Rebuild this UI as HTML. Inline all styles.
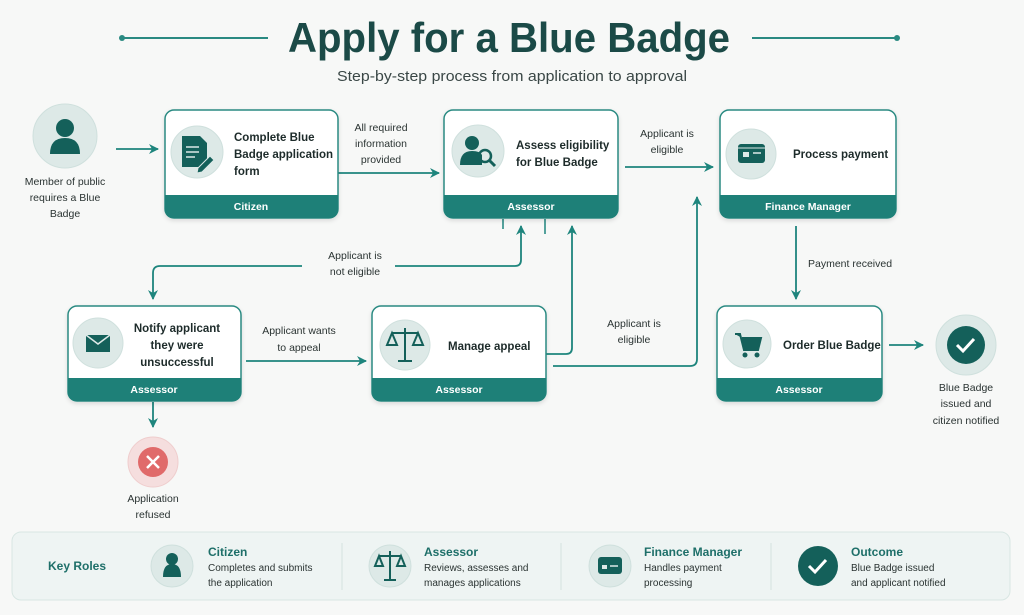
<!DOCTYPE html>
<html><head><meta charset="utf-8"><style>
html,body{margin:0;padding:0;background:#f7f8f7;}
svg{display:block;font-family:"Liberation Sans",sans-serif;}
.t{fill:#1d2b2a;font-size:11.5px;font-weight:bold;}
.l{fill:#2a3332;font-size:10.5px;}
.f{fill:#fff;font-size:10.5px;font-weight:bold;}
.c{stroke:#1e857d;stroke-width:1.8;fill:none;}
</style></head><body>
<svg width="1024" height="615" viewBox="0 0 1024 615">
<defs>
<marker id="a" markerWidth="12" markerHeight="12" refX="9" refY="6" orient="auto" markerUnits="userSpaceOnUse"><path d="M0,1 L10,6 L0,11 L3,6z" fill="#1e857d"/></marker>
<filter id="s" x="-10%" y="-10%" width="120%" height="130%"><feDropShadow dx="0" dy="2" stdDeviation="2" flood-color="#000" flood-opacity="0.12"/></filter>
</defs>
<rect width="1024" height="615" fill="#f7f8f7"/>
<text x="288" y="52" textLength="442" lengthAdjust="spacingAndGlyphs" font-size="42" font-weight="bold" fill="#1b4a47">Apply for a Blue Badge</text>
<line x1="122" y1="38" x2="268" y2="38" stroke="#2a8a82" stroke-width="2"/><circle cx="122" cy="38" r="3" fill="#2a8a82"/>
<line x1="752" y1="38" x2="897" y2="38" stroke="#2a8a82" stroke-width="2"/><circle cx="897" cy="38" r="3" fill="#2a8a82"/>
<text x="337" y="81" textLength="350" lengthAdjust="spacingAndGlyphs" font-size="15" fill="#3a4746">Step-by-step process from application to approval</text>

<circle cx="65" cy="136" r="32" fill="#dde9e7" stroke="#cfe0dd"/>
<circle cx="65" cy="128" r="9" fill="#14605a"/><path d="M50,154 q0,-16 15,-16 q15,0 15,16 z" fill="#14605a"/>
<text class="l" text-anchor="middle"><tspan x="65" y="185">Member of public</tspan><tspan x="65" y="201">requires a Blue</tspan><tspan x="65" y="217">Badge</tspan></text>
<line class="c" x1="116" y1="149" x2="158" y2="149" marker-end="url(#a)"/>

<line class="c" x1="338" y1="173" x2="439" y2="173" marker-end="url(#a)"/>
<text class="l" text-anchor="middle"><tspan x="381" y="131">All required</tspan><tspan x="381" y="147">information</tspan><tspan x="381" y="163">provided</tspan></text>
<line class="c" x1="625" y1="167" x2="713" y2="167" marker-end="url(#a)"/>
<text class="l" text-anchor="middle"><tspan x="667" y="137">Applicant is</tspan><tspan x="667" y="153">eligible</tspan></text>
<line class="c" x1="796" y1="226" x2="796" y2="299" marker-end="url(#a)"/>
<text class="l" x="808" y="267">Payment received</text>
<line class="c" x1="889" y1="345" x2="923" y2="345" marker-end="url(#a)"/>
<path class="c" d="M395,266 H515 q6,0 6,-6 V226" marker-end="url(#a)"/>
<path class="c" d="M302,266 H160 q-7,0 -7,7 V299" marker-end="url(#a)"/>
<text class="l" text-anchor="middle"><tspan x="355" y="259">Applicant is</tspan><tspan x="355" y="275">not eligible</tspan></text>
<line x1="503" y1="219" x2="503" y2="229" stroke="#1e857d" stroke-width="1.5"/>
<line x1="545" y1="219" x2="545" y2="234" stroke="#1e857d" stroke-width="1.5"/>
<path class="c" d="M546,354 H566 q6,0 6,-6 V226" marker-end="url(#a)"/>
<path class="c" d="M553,366 H690 q7,0 7,-7 V197" marker-end="url(#a)"/>
<text class="l" text-anchor="middle"><tspan x="634" y="327">Applicant is</tspan><tspan x="634" y="343">eligible</tspan></text>
<line class="c" x1="246" y1="361" x2="366" y2="361" marker-end="url(#a)"/>
<text class="l" text-anchor="middle"><tspan x="299" y="334">Applicant wants</tspan><tspan x="299" y="351">to appeal</tspan></text>
<line class="c" x1="153" y1="402" x2="153" y2="427" marker-end="url(#a)"/>

<g filter="url(#s)">
<rect x="165" y="110" width="173" height="108" rx="9" fill="#fff" stroke="#2a8a82" stroke-width="1.5"/>
<rect x="444" y="110" width="174" height="108" rx="9" fill="#fff" stroke="#2a8a82" stroke-width="1.5"/>
<rect x="720" y="110" width="176" height="108" rx="9" fill="#fff" stroke="#2a8a82" stroke-width="1.5"/>
<rect x="68" y="306" width="173" height="95" rx="9" fill="#fff" stroke="#2a8a82" stroke-width="1.5"/>
<rect x="372" y="306" width="174" height="95" rx="9" fill="#fff" stroke="#2a8a82" stroke-width="1.5"/>
<rect x="717" y="306" width="165" height="95" rx="9" fill="#fff" stroke="#2a8a82" stroke-width="1.5"/>
</g>
<path d="M165,195 H338 V209 q0,9 -9,9 H174 q-9,0 -9,-9z" fill="#1e8078"/>
<path d="M444,195 H618 V209 q0,9 -9,9 H453 q-9,0 -9,-9z" fill="#1e8078"/>
<path d="M720,195 H896 V209 q0,9 -9,9 H729 q-9,0 -9,-9z" fill="#1e8078"/>
<path d="M68,378 H241 V392 q0,9 -9,9 H77 q-9,0 -9,-9z" fill="#1e8078"/>
<path d="M372,378 H546 V392 q0,9 -9,9 H381 q-9,0 -9,-9z" fill="#1e8078"/>
<path d="M717,378 H882 V392 q0,9 -9,9 H726 q-9,0 -9,-9z" fill="#1e8078"/>
<text class="f" text-anchor="middle" x="251" y="210">Citizen</text>
<text class="f" text-anchor="middle" x="531" y="210">Assessor</text>
<text class="f" text-anchor="middle" x="808" y="210">Finance Manager</text>
<text class="f" text-anchor="middle" x="154" y="393">Assessor</text>
<text class="f" text-anchor="middle" x="459" y="393">Assessor</text>
<text class="f" text-anchor="middle" x="799" y="393">Assessor</text>

<g fill="#dde9e7" stroke="#cfe0dd">
<circle cx="197" cy="152" r="26"/><circle cx="478" cy="151" r="26"/><circle cx="751" cy="154" r="25"/>
<circle cx="98" cy="343" r="25"/><circle cx="405" cy="345" r="25"/><circle cx="747" cy="344" r="24"/>
</g>
<path d="M182,136 h18 l7,7 v24 h-25z" fill="#14605a"/><g stroke="#dde9e7" stroke-width="1.5"><line x1="186" y1="147" x2="199" y2="147"/><line x1="186" y1="152" x2="199" y2="152"/><line x1="186" y1="157" x2="195" y2="157"/></g>
<path d="M198,168 l12,-12 4,4 -12,12 -5,1z" fill="#14605a" stroke="#dde9e7"/>
<circle cx="472" cy="143" r="7" fill="#14605a"/><path d="M460,165 q0,-14 12,-14 q8,0 10,4 v10z" fill="#14605a"/>
<circle cx="485" cy="156" r="6" fill="none" stroke="#14605a" stroke-width="2.5"/><line x1="489" y1="160" x2="495" y2="166" stroke="#14605a" stroke-width="3"/>
<rect x="738" y="144" width="27" height="19" rx="3" fill="#14605a"/><rect x="743" y="152" width="6" height="5" fill="#dde9e7"/><line x1="753" y1="153" x2="761" y2="153" stroke="#dde9e7" stroke-width="1.5"/><line x1="738" y1="148" x2="765" y2="148" stroke="#dde9e7" stroke-width="1"/>
<rect x="86" y="335" width="24" height="17" fill="#14605a"/><path d="M86,335 l12,9 12,-9" fill="none" stroke="#dde9e7" stroke-width="1.5"/>
<g stroke="#14605a" stroke-width="2" fill="none"><line x1="405" y1="328" x2="405" y2="360"/><line x1="392" y1="333" x2="418" y2="333"/><line x1="398" y1="361" x2="412" y2="361"/><path d="M392,333 l-5,12 h10z M418,333 l-5,12 h10z"/></g>
<path d="M735,334 h5 l4,16 h14 l3,-12 h-19" fill="#14605a" stroke="#14605a" stroke-width="2"/><circle cx="745" cy="355" r="2.5" fill="#14605a"/><circle cx="757" cy="355" r="2.5" fill="#14605a"/>

<text class="t"><tspan x="234" y="141">Complete Blue</tspan><tspan x="234" y="158">Badge application</tspan><tspan x="234" y="175">form</tspan></text>
<text class="t"><tspan x="516" y="149">Assess eligibility</tspan><tspan x="516" y="166">for Blue Badge</tspan></text>
<text class="t" x="793" y="158">Process payment</text>
<text class="t" text-anchor="middle"><tspan x="177" y="332">Notify applicant</tspan><tspan x="177" y="349">they were</tspan><tspan x="177" y="366">unsuccessful</tspan></text>
<text class="t" x="448" y="350">Manage appeal</text>
<text class="t" x="783" y="349">Order Blue Badge</text>

<circle cx="966" cy="345" r="30" fill="#dde9e7" stroke="#cfe0dd"/><circle cx="966" cy="345" r="19" fill="#14605a"/>
<path d="M957,345 l6,6 11,-12" stroke="#fff" stroke-width="3" fill="none"/>
<text class="l" text-anchor="middle"><tspan x="966" y="391">Blue Badge</tspan><tspan x="966" y="407">issued and</tspan><tspan x="966" y="424">citizen notified</tspan></text>
<circle cx="153" cy="462" r="25" fill="#f5dede" stroke="#efcdcd"/><circle cx="153" cy="462" r="15" fill="#e06a6a"/>
<path d="M147,456 l12,12 M159,456 l-12,12" stroke="#fff" stroke-width="2.5"/>
<text class="l" text-anchor="middle"><tspan x="153" y="502">Application</tspan><tspan x="153" y="518">refused</tspan></text>

<rect x="12" y="532" width="998" height="68" rx="9" fill="#eef4f3" stroke="#d8e6e3"/>
<text x="48" y="570" font-size="12" font-weight="bold" fill="#1e6f69">Key Roles</text>
<g stroke="#d4e2df"><line x1="342" y1="543" x2="342" y2="590"/><line x1="561" y1="543" x2="561" y2="590"/><line x1="771" y1="543" x2="771" y2="590"/></g>
<g fill="#dde9e7" stroke="#cfe0dd"><circle cx="172" cy="566" r="21"/><circle cx="390" cy="566" r="21"/><circle cx="610" cy="566" r="21"/></g>
<circle cx="172" cy="559" r="6" fill="#14605a"/><path d="M163,577 q0,-13 9,-13 q9,0 9,13z" fill="#14605a"/>
<g stroke="#14605a" stroke-width="2" fill="none"><line x1="390" y1="551" x2="390" y2="580"/><line x1="379" y1="556" x2="401" y2="556"/><line x1="384" y1="580" x2="396" y2="580"/><path d="M379,556 l-4,10 h8z M401,556 l-4,10 h8z"/></g>
<rect x="598" y="557" width="24" height="17" rx="3" fill="#14605a"/><rect x="602" y="565" width="5" height="4" fill="#dde9e7"/><line x1="610" y1="566" x2="618" y2="566" stroke="#dde9e7" stroke-width="1.5"/>
<circle cx="818" cy="566" r="20" fill="#14605a"/><path d="M809,566 l6,6 11,-12" stroke="#fff" stroke-width="3" fill="none"/>
<g font-size="12" font-weight="bold" fill="#1e6f69"><text x="208" y="556">Citizen</text><text x="424" y="556">Assessor</text><text x="644" y="556">Finance Manager</text><text x="851" y="556">Outcome</text></g>
<g font-size="10" fill="#2a3332">
<text><tspan x="208" y="571">Completes and submits</tspan><tspan x="208" y="586">the application</tspan></text>
<text><tspan x="424" y="571">Reviews, assesses and</tspan><tspan x="424" y="586">manages applications</tspan></text>
<text><tspan x="644" y="571">Handles payment</tspan><tspan x="644" y="586">processing</tspan></text>
<text><tspan x="851" y="571">Blue Badge issued</tspan><tspan x="851" y="586">and applicant notified</tspan></text>
</g>
</svg>
</body></html>
